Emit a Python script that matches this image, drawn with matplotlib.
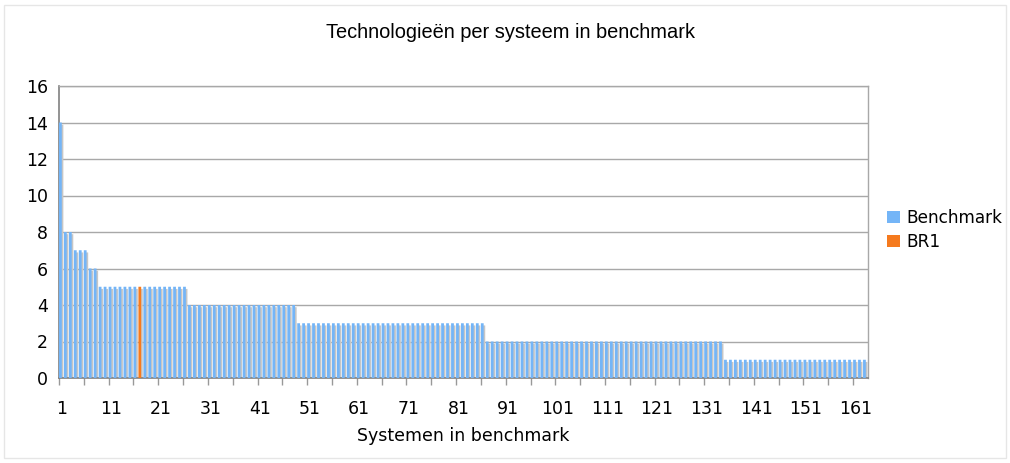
import numpy as np
import matplotlib.pyplot as plt
from matplotlib import patches

# Data: number of systems per technology count (sorted descending)
levels = [14, 8, 7, 6, 5, 4, 3, 2, 1]
counts = [1, 2, 3, 2, 18, 22, 38, 48, 29]
br1_system = 17
br1_value = 5

values = np.repeat(levels, counts).astype(float)
systems = np.arange(1, len(values) + 1)
bench = values.copy()
bench[br1_system - 1] = np.nan

xtick_labels = [str(i) for i in range(1, 162, 10)]

fig = plt.figure(figsize=(10.10, 4.63), dpi=100)
ax = fig.add_axes([59 / 1010, 1 - 378 / 463, (868 - 59) / 1010, (378 - 86) / 463])

bw = 0.56
# shadow bars
shadow = ax.bar(systems - 0.5 + 0.28, values - 0.12, width=0.6, align='edge', color='#c6c6c6',
                zorder=2, linewidth=0)
blue = ax.bar(systems - 0.5, bench, width=bw, align='edge', color='#74b5f7', zorder=3, linewidth=0,
              label='Benchmark')
orange = ax.bar([br1_system - 0.5], [br1_value], width=bw, align='edge', color='#f57a1e', zorder=4,
                linewidth=0, label='BR1')
for bars in (shadow, blue, orange):
    for b in bars:
        b.set_snap(False)

ax.set_xlim(0.5, len(values) + 0.5)
ax.set_ylim(0, 16)
ax.set_yticks(range(0, 17, 2))
ax.yaxis.grid(True, color='#a8a8a8', lw=1)
ax.set_axisbelow(True)

ax.set_xticks(np.arange(0.5, len(values) + 0.6, 5), minor=True)
ax.set_xticks(range(1, 162, 10))
ax.set_xticklabels(xtick_labels)
ax.tick_params(axis='x', which='major', length=0, labelsize=12.5, pad=16)
ax.tick_params(axis='x', which='minor', length=5, color='#999999', width=1)
ax.tick_params(axis='y', length=0, labelsize=12.5, pad=8)

for pos in ['left', 'bottom']:
    ax.spines[pos].set_color('#808080')
    ax.spines[pos].set_linewidth(1.2)
for pos in ['top', 'right']:
    ax.spines[pos].set_color('#a8a8a8')
    ax.spines[pos].set_linewidth(1)

ax.set_xlabel('Systemen in benchmark', fontsize=12.5, labelpad=6)
fig.text(0.505, 1 - 32 / 463, 'Technologieën per systeem in benchmark',
         ha='center', va='center', fontsize=14.4, family='Liberation Sans')

fig.legend(loc='center left', bbox_to_anchor=(0.870, 0.503), frameon=False, fontsize=12.2,
           handlelength=0.75, handleheight=0.75, handletextpad=0.4, labelspacing=0.35, borderpad=0)

fig.patches.append(patches.Rectangle((0.004, 0.01), 0.992, 0.98, transform=fig.transFigure,
                                     fill=False, edgecolor='#e6e6e6', lw=1))

fig.savefig('out.png', dpi=100)
